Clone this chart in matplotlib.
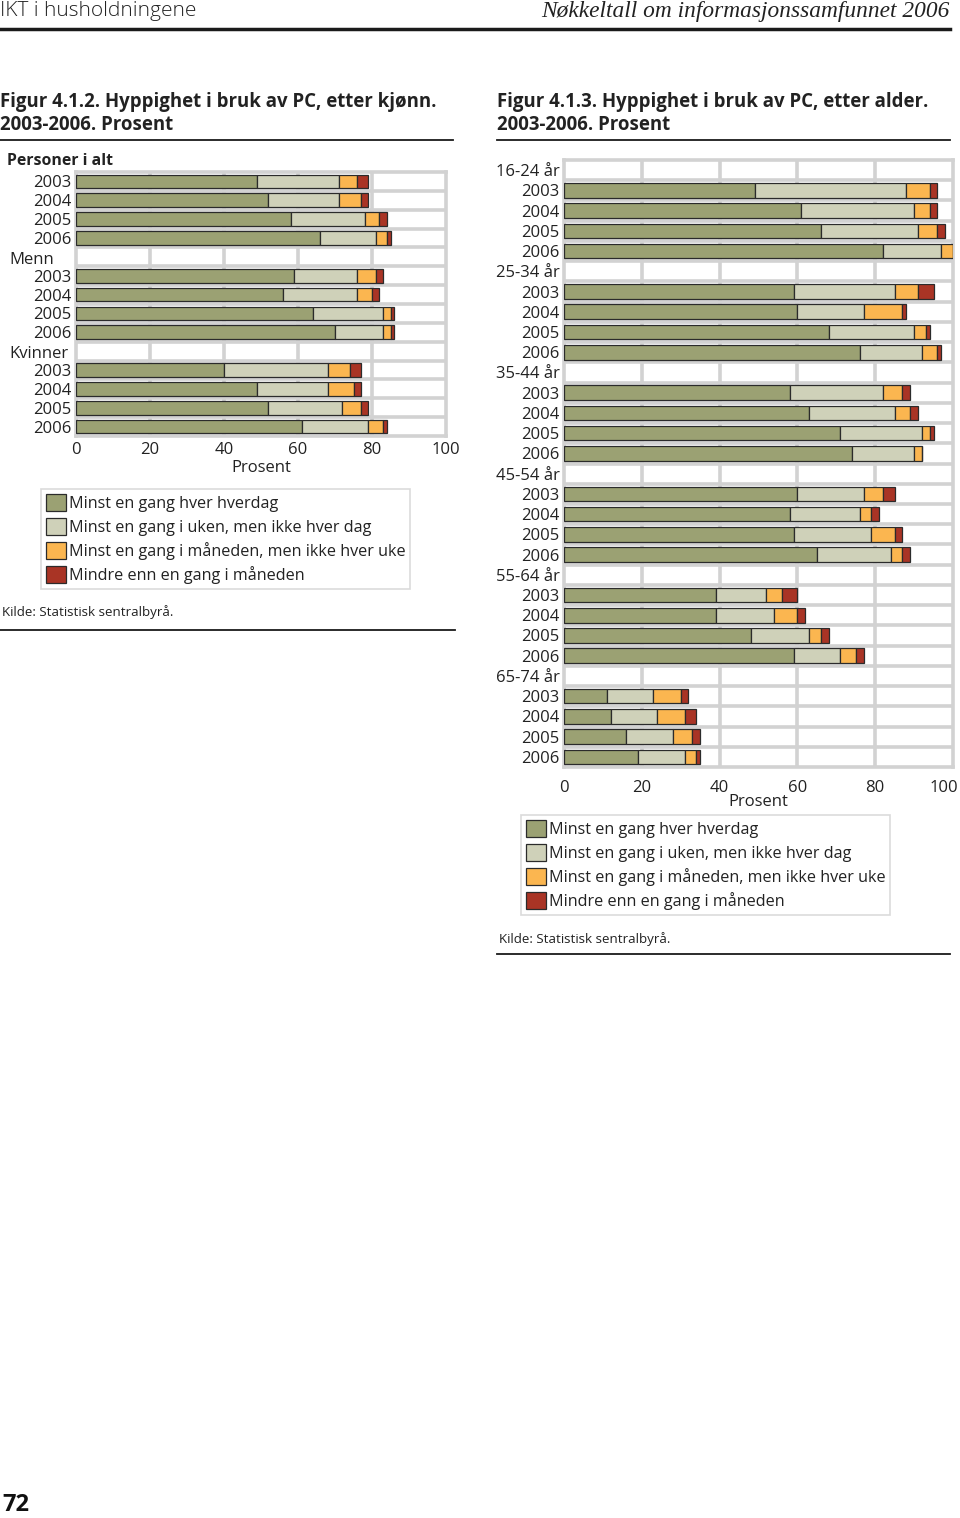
import matplotlib
matplotlib.use("Agg")
import matplotlib.pyplot as plt
from matplotlib.patches import Patch
from matplotlib.lines import Line2D
from matplotlib.transforms import ScaledTranslation
import numpy as np

plt.rcParams['font.family'] = ['Open Sans', 'DejaVu Sans']

# ---------------- data ----------------
series_names = ["Minst en gang hver hverdag",
                "Minst en gang i uken, men ikke hver dag",
                "Minst en gang i måneden, men ikke hver uke",
                "Mindre enn en gang i måneden"]
colors = ["#9ba173", "#cfd1b9", "#fbb650", "#a93425"]
years = ["2003", "2004", "2005", "2006"]

# Figure 4.1.2 (kjønn)
sex_groups = ["Personer i alt", "Menn", "Kvinner"]
sex_daily   = [49, 52, 58, 66,  59, 56, 64, 70,  40, 49, 52, 61]
sex_weekly  = [22, 19, 20, 15,  17, 20, 19, 13,  28, 19, 20, 18]
sex_monthly = [5, 6, 4, 3,      5, 4, 2, 2,      6, 7, 5, 4]
sex_less    = [3, 2, 2, 1,      2, 2, 1, 1,      3, 2, 2, 1]

# Figure 4.1.3 (alder)
age_groups = ["16-24 år", "25-34 år", "35-44 år", "45-54 år", "55-64 år", "65-74 år"]
age_daily   = [49, 61, 66, 82,  59, 60, 68, 76,  58, 63, 71, 74,
               60, 58, 59, 65,  39, 39, 48, 59,  11, 12, 16, 19]
age_weekly  = [39, 29, 25, 15,  26, 17, 22, 16,  24, 22, 21, 16,
               17, 18, 20, 19,  13, 15, 15, 12,  12, 12, 12, 12]
age_monthly = [6, 4, 5, 3,      6, 10, 3, 4,     5, 4, 2, 2,
               5, 3, 6, 3,      4, 6, 3, 4,      7, 7, 5, 3]
age_less    = [2, 2, 2, 0,      4, 1, 1, 1,      2, 2, 1, 0,
               3, 2, 2, 2,      4, 2, 2, 2,      2, 3, 2, 1]

W, H = 960, 1518
fig = plt.figure(figsize=(W / 100, H / 100), dpi=100)

def fx(x):
    return x / W

def fy(y):
    return 1 - y / H

GRID = "#d2d2d2"
TXT = "#222222"
FS = 12

def hline(x0, x1, y, lw, color="#1a1a1a"):
    fig.add_artist(Line2D([fx(x0), fx(x1)], [fy(y), fy(y)], lw=lw, color=color,
                          transform=fig.transFigure))

def draw_chart(rect, group_names, segs, first_label_row, bar_h, xpad, labelpad,
               group_label_x=None, last_shift=0):
    ax = fig.add_axes(rect)
    rows = []  # (label, kind, data_index)
    di = 0
    for gi, g in enumerate(group_names):
        if gi > 0 or first_label_row:
            rows.append((g, "group", None))
        for yr in years:
            rows.append((yr, "year", di))
            di += 1
    n = len(rows)
    pos = np.arange(n)
    ax.set_ylim(n - 0.5, -0.5)
    ax.set_xlim(0, 100)
    for k in range(n - 1):
        ax.axhline(k + 0.5, color=GRID, lw=2.6, zorder=0)
    for xv in [20, 40, 60, 80]:
        ax.axvline(xv, color=GRID, lw=2.6, zorder=0)
    for sp in ax.spines.values():
        sp.set_color(GRID)
        sp.set_linewidth(2.6)
    yidx = [p for p, r in zip(pos, rows) if r[1] == "year"]
    dix = [r[2] for r in rows if r[1] == "year"]
    left = np.zeros(len(yidx))
    for s, c in zip(segs, colors):
        vals = np.array([s[i] for i in dix], dtype=float)
        ax.barh(yidx, vals, left=left, height=bar_h, color=c,
                edgecolor="#2b2b2b", linewidth=0.9, zorder=3)
        left += vals
    ax.set_xticks([0, 20, 40, 60, 80, 100])
    ax.set_xticklabels(["0", "20", "40", "60", "80", "100"])
    ax.set_yticks(pos)
    labels = []
    for r in rows:
        if r[1] == "group" and group_label_x is not None:
            labels.append("")
        else:
            labels.append(r[0])
    ax.set_yticklabels(labels)
    ax.tick_params(axis="both", length=0, labelsize=FS, colors=TXT, pad=3)
    ax.tick_params(axis="x", pad=xpad)
    ax.set_xlabel("Prosent", fontsize=FS, color=TXT, labelpad=labelpad)
    if last_shift:
        lab = ax.get_xticklabels()[-1]
        lab.set_transform(lab.get_transform() +
                          ScaledTranslation(last_shift / 100, 0, fig.dpi_scale_trans))
    if group_label_x is not None:
        for p, r in zip(pos, rows):
            if r[1] == "group":
                ax.text(group_label_x, p + 0.15, r[0], transform=ax.get_yaxis_transform(),
                        ha="left", va="center", fontsize=FS, color=TXT)
    return ax

# left chart
axL = draw_chart([fx(76), fy(436), fx(446) - fx(76), fy(172) - fy(436)],
                 sex_groups, [sex_daily, sex_weekly, sex_monthly, sex_less],
                 first_label_row=False, bar_h=0.72, xpad=4.5, labelpad=1.5,
                 group_label_x=(9 - 76) / 370)
fig.text(fx(7), fy(161), sex_groups[0], ha="left", va="center",
         fontsize=11.4, fontweight="bold", color=TXT)

# right chart
axR = draw_chart([fx(564), fy(767), fx(953) - fx(564), fy(160) - fy(767)],
                 age_groups, [age_daily, age_weekly, age_monthly, age_less],
                 first_label_row=True, bar_h=0.72, xpad=9, labelpad=-1,
                 group_label_x=None, last_shift=-9)

# legends
handles = [Patch(facecolor=c, edgecolor="#2b2b2b", linewidth=0.9) for c in colors]
for (lx, ly) in [(41, 489), (521, 815)]:
    leg = fig.legend(handles, series_names, loc="upper left",
                     bbox_to_anchor=(fx(lx), fy(ly)), bbox_transform=fig.transFigure,
                     fontsize=11.6, frameon=True, fancybox=False,
                     handlelength=1.25, handleheight=1.25, handletextpad=0.15,
                     labelspacing=0.37, borderpad=0.32, borderaxespad=0)
    leg.get_frame().set_edgecolor(GRID)
    leg.get_frame().set_linewidth(1.2)
    for t in leg.get_texts():
        t.set_color(TXT)

# header
fig.text(fx(0), fy(11), "IKT i husholdningene", ha="left", va="center",
         fontsize=15, color=TXT, fontweight="light")
fig.text(fx(950), fy(11), "Nøkkeltall om informasjonssamfunnet 2006", ha="right",
         va="center", fontsize=16.8, color=TXT, family="Liberation Serif", style="italic")
hline(0, 950, 29, 2.5)

# titles
TFS = 13.4
fig.text(fx(0), fy(102), "Figur 4.1.2. Hyppighet i bruk av PC, etter kjønn.",
         ha="left", va="center", fontsize=TFS, fontweight="bold", color=TXT)
fig.text(fx(0), fy(125), "2003-2006. Prosent", ha="left", va="center",
         fontsize=TFS, fontweight="bold", color=TXT)
fig.text(fx(497), fy(102), "Figur 4.1.3. Hyppighet i bruk av PC, etter alder.",
         ha="left", va="center", fontsize=TFS, fontweight="bold", color=TXT)
fig.text(fx(497), fy(125), "2003-2006. Prosent", ha="left", va="center",
         fontsize=TFS, fontweight="bold", color=TXT)
hline(0, 453, 140, 1.3)
hline(497, 950, 140, 1.3)

# sources
fig.text(fx(2), fy(612), "Kilde: Statistisk sentralbyrå.", ha="left", va="center",
         fontsize=9.6, color=TXT)
hline(0, 455, 630, 1.3)
fig.text(fx(499), fy(939), "Kilde: Statistisk sentralbyrå.", ha="left", va="center",
         fontsize=9.6, color=TXT)
hline(497, 950, 954, 1.3)

# page number
fig.text(fx(2), fy(1505), "72", ha="left", va="center", fontsize=17,
         fontweight="bold", color="#111111")

fig.savefig("out.png", dpi=100)
